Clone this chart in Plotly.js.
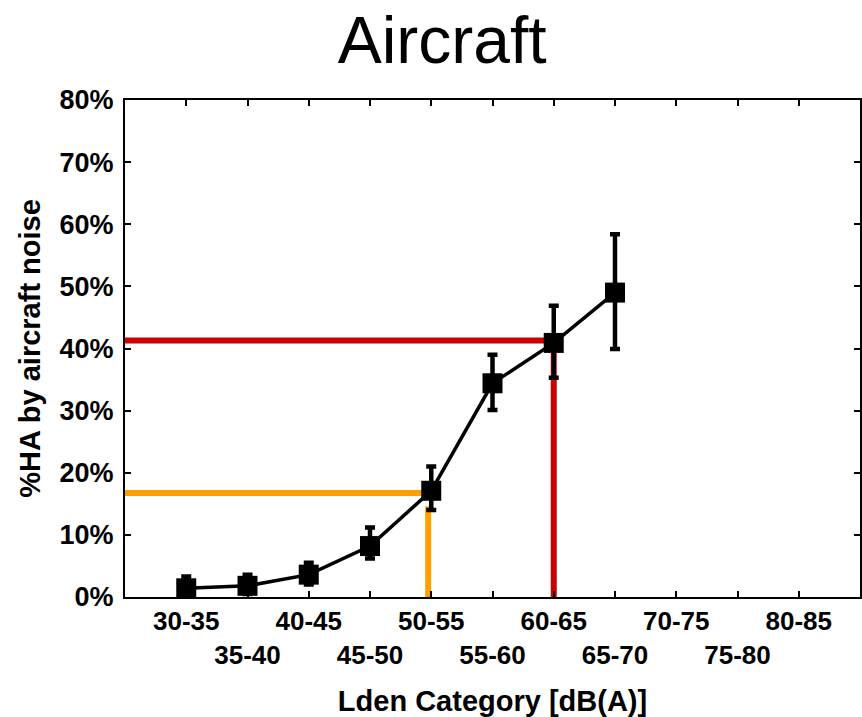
<!DOCTYPE html>
<html>
<head>
<meta charset="utf-8">
<script src="https://cdn.plot.ly/plotly-3.0.1.min.js"></script>
<style>html,body{margin:0;padding:0;background:#fff;}#chart{width:862px;height:717px;}</style>
</head>
<body>
<div id="chart"></div>
<script>
// Category labels (x axis)
const categories = ["30-35","35-40","40-45","45-50","50-55","55-60","60-65","65-70","70-75","75-80","80-85"];
// %HA values for categories with data (first 8)
const haValues = [1.4, 1.8, 3.6, 8.2, 17.1, 34.4, 40.9, 49.0];
const haUpper  = [3.3, 3.6, 5.5, 11.2, 21.0, 39.0, 46.9, 58.4];
const haLower  = [0.3, 0.5, 2.0, 6.2, 14.0, 30.1, 35.3, 39.9];
// Reference lines: orange (at 50-55) and red (at 60-65)
const orangeRefX = 3.95;
const orangeRefY = 16.75;
const orangeVertTop = 14.6;
const redRefX = 6.0;
const redRefY = 41.3;
const yTicks = [0,10,20,30,40,50,60,70,80];

const idx = haValues.map((v,i)=>i);
const tickVals = categories.map((c,i)=>i);
const tickText = categories.map((c,i)=> i%2===0 ? c : "<br>"+c);
const errPlus = haUpper.map((u,i)=>u-haValues[i]);
const errMinus = haValues.map((v,i)=>v-haLower[i]);

const FONT = "Liberation Sans, Arial, sans-serif";

const traces = [
  {x:[-1, orangeRefX, null, orangeRefX, orangeRefX], y:[orangeRefY, orangeRefY, null, 0, orangeVertTop],
   mode:"lines", line:{color:"#ff9e00", width:6}, hoverinfo:"skip", showlegend:false, connectgaps:false},
  {x:[-1, redRefX, redRefX], y:[redRefY, redRefY, 0],
   mode:"lines", line:{color:"#cc0000", width:6}, hoverinfo:"skip", showlegend:false},
  {x: idx, y: haValues, mode:"lines+markers",
   line:{color:"#000", width:3.5},
   marker:{symbol:"square", size:20, color:"#000"},
   error_y:{type:"data", symmetric:false, array:errPlus, arrayminus:errMinus, color:"#000", thickness:4.5, width:5},
   showlegend:false}
];

const layout = {
  width:862, height:717,
  margin:{l:125, r:2, t:100, b:120},
  paper_bgcolor:"#fff", plot_bgcolor:"#fff",
  font:{family:FONT, color:"#000"},
  title:{text:"Aircraft", font:{family:FONT, size:66, color:"#000"}, xref:"container", yref:"container", x:0.513, xanchor:"center", y:0.944, yanchor:"middle"},
  xaxis:{range:[-1,11], tickmode:"array", tickvals:tickVals, ticktext:tickText, tickangle:0,
    ticks:"inside", ticklen:6, tickwidth:2, tickcolor:"#000",
    showline:true, linewidth:2, linecolor:"#000", mirror:"ticks", showgrid:false, zeroline:false,
    tickfont:{family:FONT, size:26, weight:"bold", color:"#000"},
    title:{text:"Lden Category [dB(A)]", font:{family:FONT, size:29, weight:"bold", color:"#000"}, standoff:24}},
  yaxis:{range:[0,80], tickmode:"array", tickvals:yTicks, ticktext:yTicks.map(v=>v+"%"),
    ticks:"inside", ticklen:6, tickwidth:2, tickcolor:"#000", ticklabelstandoff:4,
    showline:true, linewidth:2, linecolor:"#000", mirror:"ticks", showgrid:false, zeroline:false,
    tickfont:{family:FONT, size:27, weight:"bold", color:"#000"},
    title:{text:"%HA by aircraft noise", font:{family:FONT, size:29, weight:"bold", color:"#000"}, standoff:10}}
};

Plotly.newPlot("chart", traces, layout, {staticPlot:true, displayModeBar:false});
</script>
</body>
</html>
